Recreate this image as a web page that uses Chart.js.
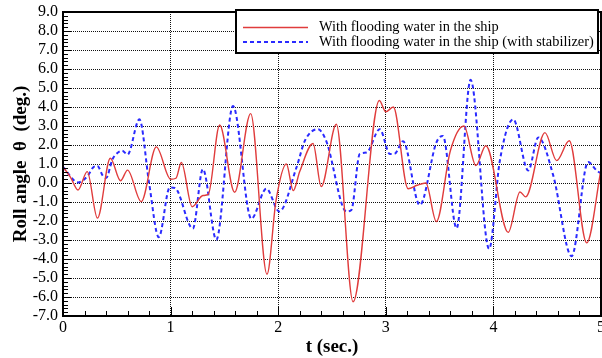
<!DOCTYPE html>
<html>
<head>
<meta charset="utf-8">
<script src="https://cdn.jsdelivr.net/npm/chart.js@4.4.1/dist/chart.umd.min.js"></script>
<style>
  html, body { margin: 0; padding: 0; background: #fff; }
  #wrap { width: 602px; height: 358px; position: relative; }
</style>
</head>
<body>
<div id="wrap"><canvas id="rollChart"></canvas></div>
<script>
// roll angle, no stabilizer
const redTimes = [
  0.0, 0.07, 0.14, 0.225, 0.32, 0.44, 0.535, 0.60, 0.727, 0.867,
  1.0, 1.05, 1.10, 1.2, 1.3, 1.35, 1.456, 1.595, 1.744, 1.896,
  1.98, 2.076, 2.14, 2.2, 2.324, 2.4, 2.54, 2.696, 2.94, 3.0,
  3.07, 3.207, 3.29, 3.372, 3.47, 3.6, 3.726, 3.837, 3.93, 4.138,
  4.247, 4.3, 4.479, 4.588, 4.705, 4.867, 5.0
];
const redAngles = [
  0.85, 0.3, -0.37, 0.6, -1.85, 1.3, 0.12, 0.68, -0.98, 1.9,
  0.2, 0.25, 1.08, -1.25, -0.66, -0.6, 3.05, -0.49, 3.65, -4.8,
  -0.92, 1.0, -0.4, 0.6, 2.08, -0.19, 3.09, -6.25, 4.34, 3.75,
  4.0, -0.3, -0.12, 0.0, -2.03, 1.7, 3.0, 0.92, 1.96, -2.6,
  -0.47, -0.73, 2.65, 1.18, 2.22, -3.15, 0.7
];

// roll angle, with stabilizer
const blueTimes = [
  0.0, 0.14, 0.23, 0.28, 0.32, 0.37, 0.4, 0.46, 0.5, 0.55,
  0.60, 0.71, 0.80, 0.89, 0.993, 1.04, 1.207, 1.3, 1.425, 1.58,
  1.75, 1.89, 2.01, 2.17, 2.25, 2.37, 2.447, 2.634, 2.68, 2.758,
  2.82, 2.944, 3.038, 3.085, 3.16, 3.316, 3.47, 3.53, 3.658, 3.788,
  3.96, 4.06, 4.184, 4.324, 4.417, 4.556, 4.727, 4.88, 4.96, 5.0
];
const blueAngles = [
  0.85, 0.03, 0.38, 0.82, 0.9, 0.38, 0.26, 1.25, 1.55, 1.7,
  1.5, 3.35, 0.0, -2.85, -0.23, -0.26, -2.4, 0.73, -2.98, 4.05,
  -1.88, -0.3, -1.5, 0.82, 2.25, 2.83, 2.2, -1.5, -1.42, 1.53,
  1.6, 2.83, 1.53, 1.55, 2.2, -1.16, 2.13, 2.48, -2.38, 5.43,
  -3.47, 1.18, 3.35, 0.66, 2.4, 0.4, -3.85, 1.1, 0.66, 0.5
];

const seriesLabels = [
  'With flooding water in the ship',
  'With flooding water in the ship (with stabilizer)'
];

const X_MIN = 0, X_MAX = 5, X_STEP = 1, X_MINOR = 0.2;
const Y_MIN = -7, Y_MAX = 9, Y_STEP = 1, Y_MINOR = 0.2;

const SERIF = "'Liberation Serif', 'Times New Roman', serif";

function toPoints(times, values) {
  return times.map((t, i) => ({ x: t, y: values[i] }));
}

// frame + inward ticks, drawn from the scales
const frameTicks = {
  id: 'frameTicks',
  afterDatasetsDraw(chart) {
    const { ctx, chartArea: area, scales } = chart;
    ctx.save();
    ctx.strokeStyle = '#000';

    ctx.lineWidth = 1;
    ctx.beginPath();
    for (let v = X_MIN; v <= X_MAX + 1e-9; v += X_MINOR) {
      const major = Math.abs(v - Math.round(v)) < 1e-6;
      const px = Math.round(scales.x.getPixelForValue(v)) + 0.5;
      const len = major ? 9 : 5;
      ctx.moveTo(px, area.bottom);
      ctx.lineTo(px, area.bottom - len);
    }
    for (let v = Y_MIN; v <= Y_MAX + 1e-9; v += Y_MINOR) {
      const major = Math.abs(v - Math.round(v)) < 1e-6;
      const py = Math.round(scales.y.getPixelForValue(v)) + 0.5;
      const len = major ? 8 : 5;
      ctx.moveTo(area.left, py);
      ctx.lineTo(area.left + len, py);
    }
    ctx.stroke();

    ctx.lineWidth = 2;
    ctx.strokeRect(area.left, area.top, area.right - area.left, area.bottom - area.top);
    ctx.restore();
  }
};

const legendBox = {
  id: 'legendBox',
  afterDraw(chart) {
    const { ctx, chartArea: area } = chart;
    const right = area.right - 3;
    const left = 236;
    const top = area.top - 2;
    const height = 43;

    ctx.save();
    ctx.fillStyle = '#fff';
    ctx.fillRect(left, top, right - left, height);
    ctx.lineWidth = 2;
    ctx.strokeStyle = '#000';
    ctx.strokeRect(left, top, right - left, height);

    chart.data.datasets.forEach((ds, i) => {
      const y = top + 17.5 + i * 14.6;
      ctx.beginPath();
      ctx.strokeStyle = ds.borderColor;
      ctx.lineWidth = ds.borderWidth;
      ctx.setLineDash(ds.borderDash || []);
      ctx.moveTo(left + 7, y);
      ctx.lineTo(left + 72, y);
      ctx.stroke();
      ctx.setLineDash([]);

      ctx.fillStyle = '#000';
      ctx.font = `14.4px ${SERIF}`;
      ctx.textBaseline = 'middle';
      ctx.fillText(ds.label, left + 83, y);
    });
    ctx.restore();
  }
};

function init() {
  const canvas = document.getElementById('rollChart');

  new Chart(canvas, {
    type: 'line',
    data: {
      datasets: [
        {
          label: seriesLabels[0],
          data: toPoints(redTimes, redAngles),
          borderColor: '#e03c3c',
          borderWidth: 1.4,
          pointRadius: 0,
          cubicInterpolationMode: 'monotone',
          fill: false
        },
        {
          label: seriesLabels[1],
          data: toPoints(blueTimes, blueAngles),
          borderColor: '#2a2aff',
          borderWidth: 2,
          borderDash: [4, 3],
          pointRadius: 0,
          cubicInterpolationMode: 'monotone',
          fill: false
        }
      ]
    },
    options: {
      responsive: true,
      maintainAspectRatio: false,
      animation: false,
      layout: { padding: { top: 12, right: 1, left: 0, bottom: 0 } },
      plugins: {
        legend: { display: false },
        tooltip: { enabled: false }
      },
      scales: {
        x: {
          type: 'linear',
          min: X_MIN,
          max: X_MAX,
          ticks: {
            stepSize: X_STEP,
            autoSkip: false,
            color: '#000',
            font: { family: SERIF, size: 16 },
            padding: 2,
            maxRotation: 0
          },
          grid: { color: '#111', lineWidth: 1, drawTicks: false },
          border: { display: false, dash: [1, 1] },
          title: {
            display: true,
            text: 't (sec.)',
            color: '#000',
            font: { family: SERIF, size: 19, weight: 'bold' },
            padding: { top: 0, bottom: 0 }
          },
          afterFit(scale) {
            scale.height = 42;
            scale.paddingLeft = 0;
            scale.paddingRight = 0;
          }
        },
        y: {
          min: Y_MIN,
          max: Y_MAX,
          ticks: {
            stepSize: Y_STEP,
            autoSkip: false,
            color: '#000',
            font: { family: SERIF, size: 16 },
            padding: 5,
            callback: (v) => Number(v).toFixed(1)
          },
          grid: { color: '#111', lineWidth: 1, drawTicks: false },
          border: { display: false, dash: [1, 1] },
          title: {
            display: true,
            text: 'Roll angle  θ  (deg.)',
            color: '#000',
            font: { family: SERIF, size: 19, weight: 'bold' },
            padding: { top: 10, bottom: 0 }
          },
          afterFit(scale) {
            scale.width = 63;
            scale.paddingTop = 0;
            scale.paddingBottom = 0;
          }
        }
      }
    },
    plugins: [frameTicks, legendBox]
  });
}

init();
</script>
</body>
</html>
